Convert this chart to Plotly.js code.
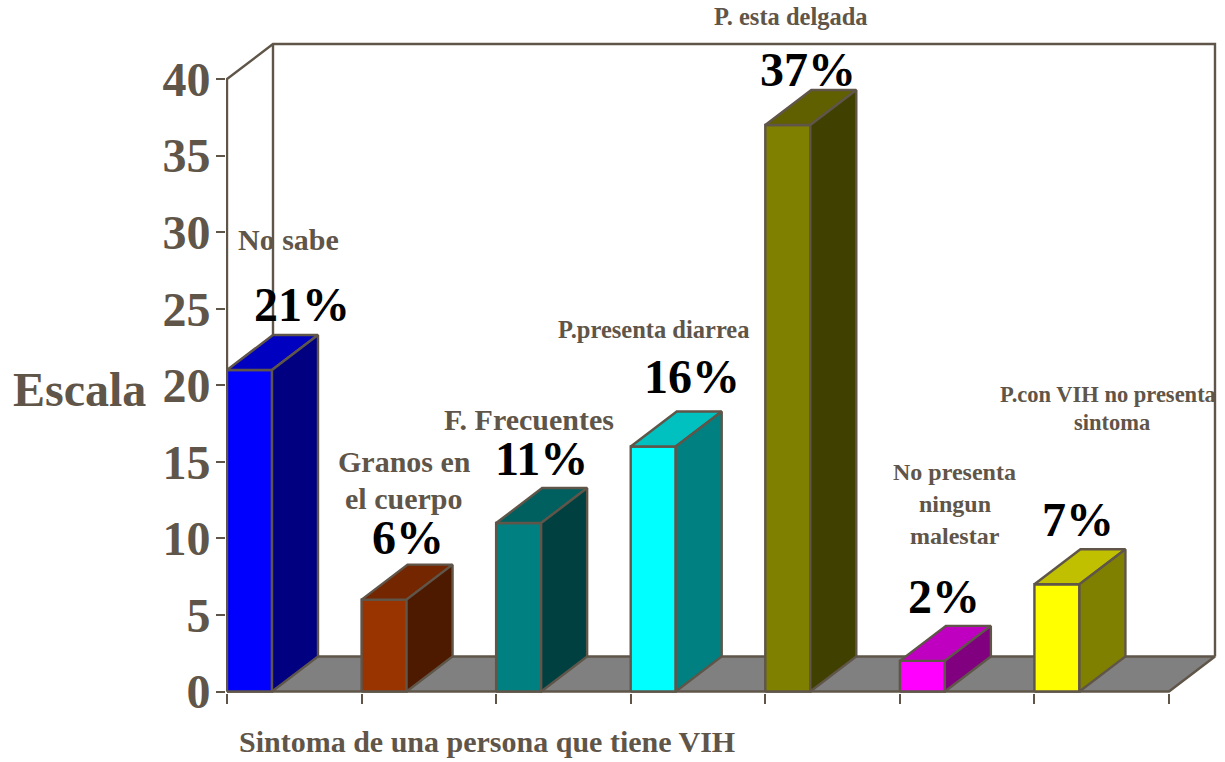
<!DOCTYPE html>
<html>
<head>
<meta charset="utf-8">
<script src="https://cdn.plot.ly/plotly-3.0.1.min.js"></script>
<style>html,body{margin:0;padding:0;background:#fff}#chart{width:1225px;height:762px}</style>
</head>
<body>
<div id="chart"></div>
<script>
const categories = ["No sabe", "Granos en<br>el cuerpo", "F. Frecuentes", "P.presenta diarrea", "P. esta delgada", "No presenta<br>ningun<br>malestar", "P.con VIH no presenta<br>sintoma"];
const values = [21, 6, 11, 16, 37, 2, 7];
const yTicks = [0, 5, 10, 15, 20, 25, 30, 35, 40];
const xTicks = [0, 1, 2, 3, 4, 5, 6, 7];
const frontColors = ["#0000ff", "#993300", "#008080", "#00ffff", "#808000", "#ff00ff", "#ffff00"];
const topColors = ["#0000c0", "#732600", "#006060", "#00c0c0", "#606000", "#c000c0", "#c0c000"];
const sideColors = ["#000080", "#4d1a00", "#004040", "#008080", "#404000", "#800080", "#808000"];

const INK = "#5f5549";
const SERIF = "'Liberation Serif', 'Times New Roman', serif";
const X0 = 227, Y0 = 691.5, W = 1225, H = 762;
const L = 226, B = 693, T = 41, R = 1218;
const UX = (1169 - 227) / 7, UY = (691.5 - 79) / 40;
const DX = 46 / UX, DY = 35 / UY, BW = 45 / UX;

function poly(xs, ys, fill) {
  return {
    type: "scatter", mode: "lines", x: xs, y: ys, cliponaxis: false,
    fill: fill ? "toself" : "none", fillcolor: fill || undefined,
    line: {color: INK, width: 2.4}, hoverinfo: "skip", showlegend: false
  };
}

const traces = [];
const n = categories.length;
// floor
traces.push(poly([0, n, n + DX, DX, 0], [0, 0, DY, DY, 0], "#808080"));
// back wall and left axis line
traces.push(poly([0, 0, DX, n + DX, n + DX], [0, 40, 40 + DY, 40 + DY, DY], null));
traces.push(poly([DX, DX], [DY, 40 + DY], null));
// bars
values.forEach((v, i) => {
  const a = i, b = i + BW;
  traces.push(poly([a, b, b, a, a], [0, 0, v, v, 0], frontColors[i]));
  traces.push(poly([a, b, b + DX, a + DX, a], [v, v, v + DY, v + DY, v], topColors[i]));
  traces.push(poly([b, b + DX, b + DX, b, b], [0, DY, v + DY, v, 0], sideColors[i]));
});

function note(text, cx, cy, size, color) {
  return {
    text: "<b>" + text + "</b>", x: (cx - L) / (R - L), y: (B - cy) / (B - T), xref: "paper", yref: "paper", showarrow: false,
    xanchor: "center", yanchor: "middle", align: "center",
    font: {family: SERIF, size: size, color: color}
  };
}
const catPlace = [
  [[288.5, 239]],
  [[404.5, 461], [403.5, 499]],
  [[529, 419]],
  [[653.5, 329]],
  [[791, 17]],
  [[954.5, 472], [954.5, 504], [955, 536]],
  [[1108, 394], [1112, 423]]
];
const catSizes = [30, 30, 30, 24.5, 24.5, 24, 22.5];
const pctPlace = [[301.5, 304], [407.5, 537], [541.5, 458], [691.5, 376], [807.5, 70], [943.5, 596], [1077.5, 519]];
const annotations = [];
categories.forEach((c, i) => {
  c.split("<br>").forEach((line, j) => {
    annotations.push(note(line, catPlace[i][j][0], catPlace[i][j][1], catSizes[i], INK));
  });
  annotations.push(note(values[i] + "%", pctPlace[i][0], pctPlace[i][1], 48, "#000000"));
});
annotations.push(note("Escala", 79, 389, 48, INK));
annotations.push(note("Sintoma de una persona que tiene VIH", 487, 742, 30, INK));

const layout = {
  width: W, height: H, autosize: false,
  paper_bgcolor: "#ffffff", plot_bgcolor: "#ffffff",
  margin: {l: L, r: W - R, t: T, b: H - B, pad: 0},
  showlegend: false,
  xaxis: {
    range: [(L - X0) / UX, (R - X0) / UX], showgrid: false, zeroline: false, showline: false,
    tickmode: "array", tickvals: xTicks, ticks: "outside", ticklen: 9.5, tickwidth: 2, tickcolor: INK,
    showticklabels: false, fixedrange: true
  },
  yaxis: {
    range: [(Y0 - B) / UY, (Y0 - T) / UY], showgrid: false, zeroline: false, showline: false,
    tickmode: "array", tickvals: yTicks, ticks: "outside", ticklen: 9, tickwidth: 2, tickcolor: INK,
    ticklabelstandoff: -4,
    tickfont: {family: SERIF, size: 48, color: INK, weight: "bold"}, fixedrange: true
  },
  annotations: annotations
};
Plotly.newPlot("chart", traces, layout, {displayModeBar: false, staticPlot: true});
</script>
</body>
</html>
